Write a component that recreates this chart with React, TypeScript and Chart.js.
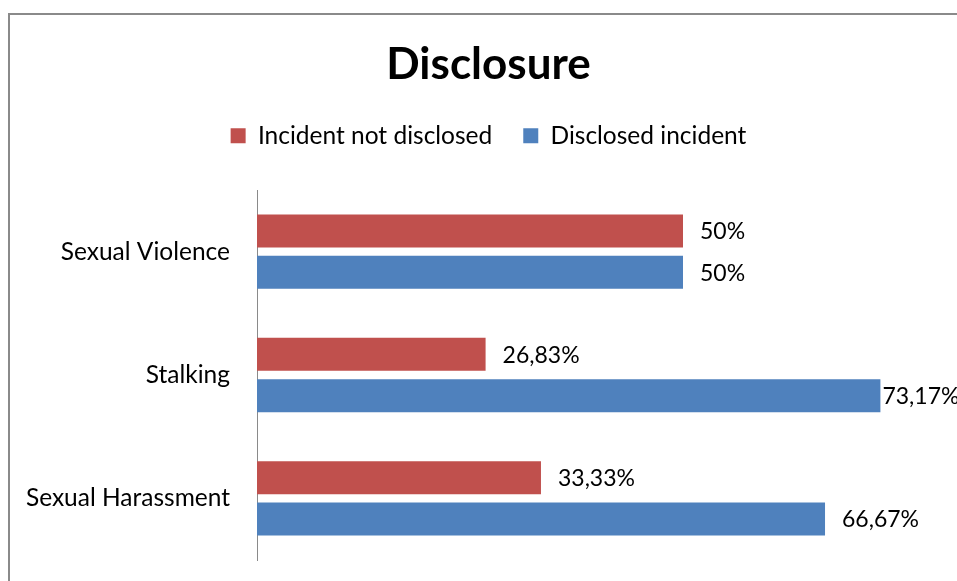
import React, { useEffect, useRef } from "react";
import { Chart, registerables } from "chart.js";

Chart.register(...registerables);

const categories = ["Sexual Violence", "Stalking", "Sexual Harassment"];
const notDisclosed = [50, 26.83, 33.33];
const disclosed = [50, 73.17, 66.67];
const seriesNames = ["Incident not disclosed", "Disclosed incident"];
const seriesColors = ["#C0504D", "#4F81BD"];
const chartTitle = "Disclosure";

const FONT = "Lato, Carlito, Calibri, 'Open Sans', sans-serif";
const PAD_LEFT = 20;

function fmt(v: number): string {
  if (Number.isInteger(v)) return v + "%";
  return v.toFixed(2).replace(".", ",") + "%";
}

const framePlugin = {
  id: "frame",
  beforeDraw(chart: any) {
    const ctx = chart.ctx;
    ctx.save();
    ctx.strokeStyle = "#8a8a8a";
    ctx.lineWidth = 2;
    ctx.strokeRect(9, 14, 3000, 3000);
    ctx.restore();
  },
};

const legendSpacePlugin = {
  id: "legendSpace",
  beforeInit(chart: any) {
    const legend = chart.legend;
    if (!legend) return;
    const orig = legend.fit;
    legend.fit = function () {
      orig.call(this);
      this.height += 32;
    };
  },
};

const labelPlugin = {
  id: "barLabels",
  afterDatasetsDraw(chart: any) {
    const ctx = chart.ctx;
    ctx.save();
    ctx.font = `23px ${FONT}`;
    ctx.fillStyle = "#000";
    ctx.textBaseline = "middle";
    ctx.textAlign = "left";
    chart.data.datasets.forEach((ds: any, di: number) => {
      const meta = chart.getDatasetMeta(di);
      meta.data.forEach((bar: any, i: number) => {
        const text = fmt(ds.data[i]);
        const w = ctx.measureText(text).width;
        let x = bar.x + 17;
        if (x + w > chart.chartArea.right) x = bar.x + 2;
        ctx.fillText(text, x, bar.y + 1);
      });
    });
    ctx.restore();
  },
};

export default function App() {
  const ref = useRef<HTMLCanvasElement | null>(null);
  useEffect(() => {
    if (!ref.current) return;
    const chart = new Chart(ref.current, {
      type: "bar",
      data: {
        labels: categories,
        datasets: [
          {
            label: seriesNames[0],
            data: notDisclosed,
            backgroundColor: seriesColors[0],
            borderWidth: 0,
          },
          {
            label: seriesNames[1],
            data: disclosed,
            backgroundColor: seriesColors[1],
            borderWidth: 0,
          },
        ],
      },
      options: {
        animation: false,
        responsive: false,
        maintainAspectRatio: false,
        indexAxis: "y",
        datasets: {
          bar: { categoryPercentage: 0.671, barPercentage: 0.797 },
        },
        layout: { padding: { top: 0, bottom: 21, left: PAD_LEFT, right: 0 } },
        plugins: {
          title: {
            display: true,
            text: chartTitle,
            color: "#000",
            font: { family: FONT, size: 44, weight: "bold", lineHeight: 1.0 },
            padding: { top: 43, bottom: 5.5 },
          },
          legend: {
            display: true,
            position: "top",
            labels: {
              color: "#000",
              font: { family: FONT, size: 24.5 },
              boxWidth: 15,
              boxHeight: 15,
              padding: 31,
            },
          },
          tooltip: { enabled: false },
        },
        scales: {
          x: {
            display: false,
            min: 0,
            max: 82.16,
          },
          y: {
            grid: { display: false, drawTicks: false },
            border: { display: true, color: "#8a8a8a", width: 1 },
            ticks: {
              color: "#000",
              font: { family: FONT, size: 24.5 },
              padding: 27,
            },
            afterFit(scale: any) {
              scale.width = 257 - PAD_LEFT;
              scale.paddingTop = 0;
              scale.paddingBottom = 0;
            },
          },
        },
      },
      plugins: [framePlugin, legendSpacePlugin, labelPlugin],
    });
    return () => chart.destroy();
  }, []);
  return (
    <div
      style={{
        position: "fixed",
        left: 0,
        top: 0,
        width: 957,
        height: 581,
        background: "#fff",
      }}
    >
      <canvas ref={ref} width={957} height={581} style={{ display: "block" }} />
    </div>
  );
}
